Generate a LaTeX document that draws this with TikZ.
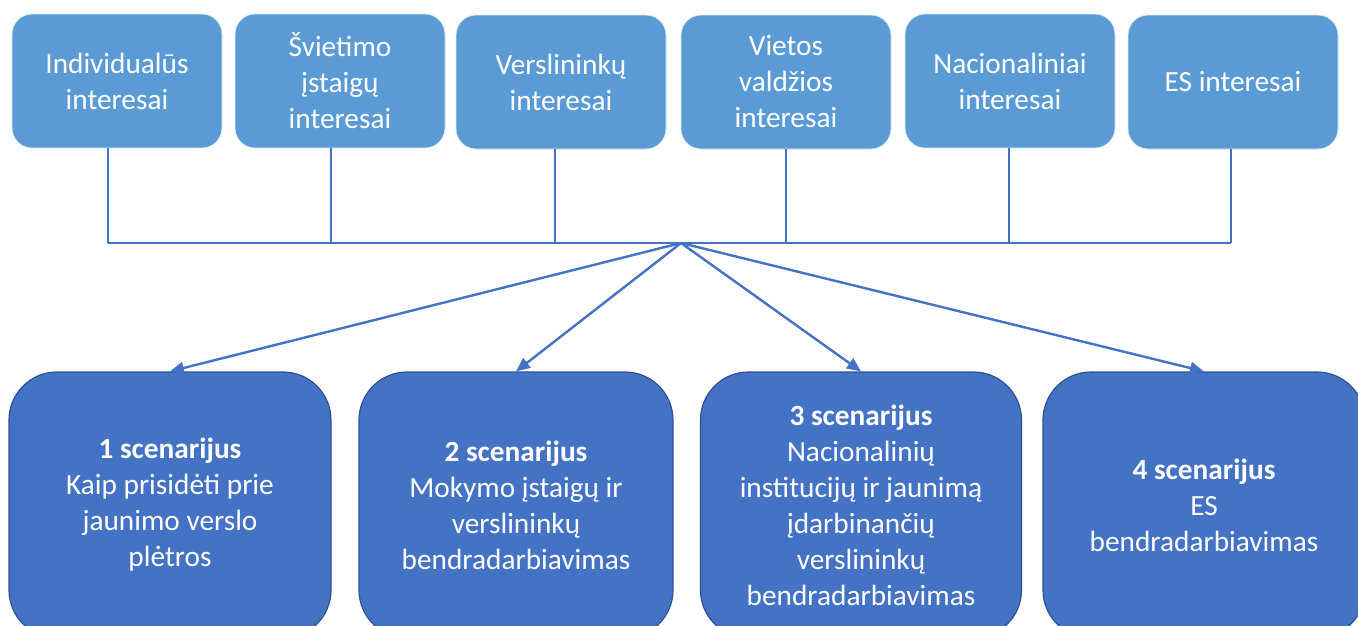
\documentclass[tikz,border=0pt]{standalone}
\usepackage{fontspec}
\setmainfont{Carlito}
\usetikzlibrary{arrows.meta}
\definecolor{topblue}{HTML}{5B9BD5}
\definecolor{botblue}{HTML}{4472C4}
\definecolor{botedge}{HTML}{2F528F}
\definecolor{linecol}{HTML}{4472C4}
\begin{document}
\begin{tikzpicture}[x=1pt,y=-1pt,
  topbox/.style={fill=topblue,draw=white!80!topblue,line width=0.8pt,rounded corners=20pt,
    minimum width=210pt,minimum height=134pt,inner sep=0pt,text=white,align=center,
    font=\fontsize{29.3}{36}\selectfont},
  botbox/.style={fill=botblue,draw=botedge,line width=1.2pt,rounded corners=48pt,
    minimum height=266pt,inner sep=0pt,text=white,align=center,
    font=\fontsize{29.3}{36}\selectfont},
  conn/.style={draw=linecol,line width=2.6pt},
  arr/.style={draw=linecol,line width=2.4pt,-{Triangle[length=14pt,width=12pt]}}]
\useasboundingbox (0,0) rectangle (1358,625);
\clip (0,0) rectangle (1358,625);
% top boxes
\node[topbox] (t1) at (117,81) {Individualūs\\interesai};
\node[topbox] (t2) at (340,81) {Švietimo\\įstaigų\\interesai};
\node[topbox] (t3) at (561,82) {Verslininkų\\interesai};
\node[topbox] (t4) at (786,82) {Vietos\\valdžios\\interesai};
\node[topbox] (t5) at (1010,81) {Nacionaliniai\\interesai};
\node[topbox] (t6) at (1233,82) {ES interesai};
% bottom boxes
\node[botbox,minimum width=322pt] (s1) at (170,505) {\textbf{1 scenarijus}\\Kaip prisidėti prie\\jaunimo verslo\\plėtros};
\node[botbox,minimum width=314pt] (s2) at (516,505) {\textbf{2 scenarijus}\\Mokymo įstaigų ir\\verslininkų\\bendradarbiavimas};
\node[botbox,minimum width=321pt] (s3) at (861,505) {\textbf{3 scenarijus}\\Nacionalinių\\institucijų ir jaunimą\\įdarbinančių\\verslininkų\\bendradarbiavimas};
\node[botbox,minimum width=322pt] (s4) at (1204,505) {\textbf{4 scenarijus}\\ES\\bendradarbiavimas};
% bus
\coordinate (b1) at (108,243);
\coordinate (b2) at (331,243);
\coordinate (b3) at (555,243);
\coordinate (b4) at (786,243);
\coordinate (b5) at (1009,243);
\coordinate (b6) at (1231,243);
\coordinate (hub) at (681,243);
\draw[conn] (t1.south -| b1) -- (b1);
\draw[conn] (t2.south -| b2) -- (b2);
\draw[conn] (t3.south -| b3) -- (b3);
\draw[conn] (t4.south -| b4) -- (b4);
\draw[conn] (t5.south -| b5) -- (b5);
\draw[conn] (t6.south -| b6) -- (b6);
\draw[conn] (b1) -- (b6);
\draw[arr] (hub) -- (s1.north);
\draw[arr] (hub) -- (s2.north);
\draw[arr] (hub) -- (s3.north);
\draw[arr] (hub) -- (s4.north);
\end{tikzpicture}
\end{document}
